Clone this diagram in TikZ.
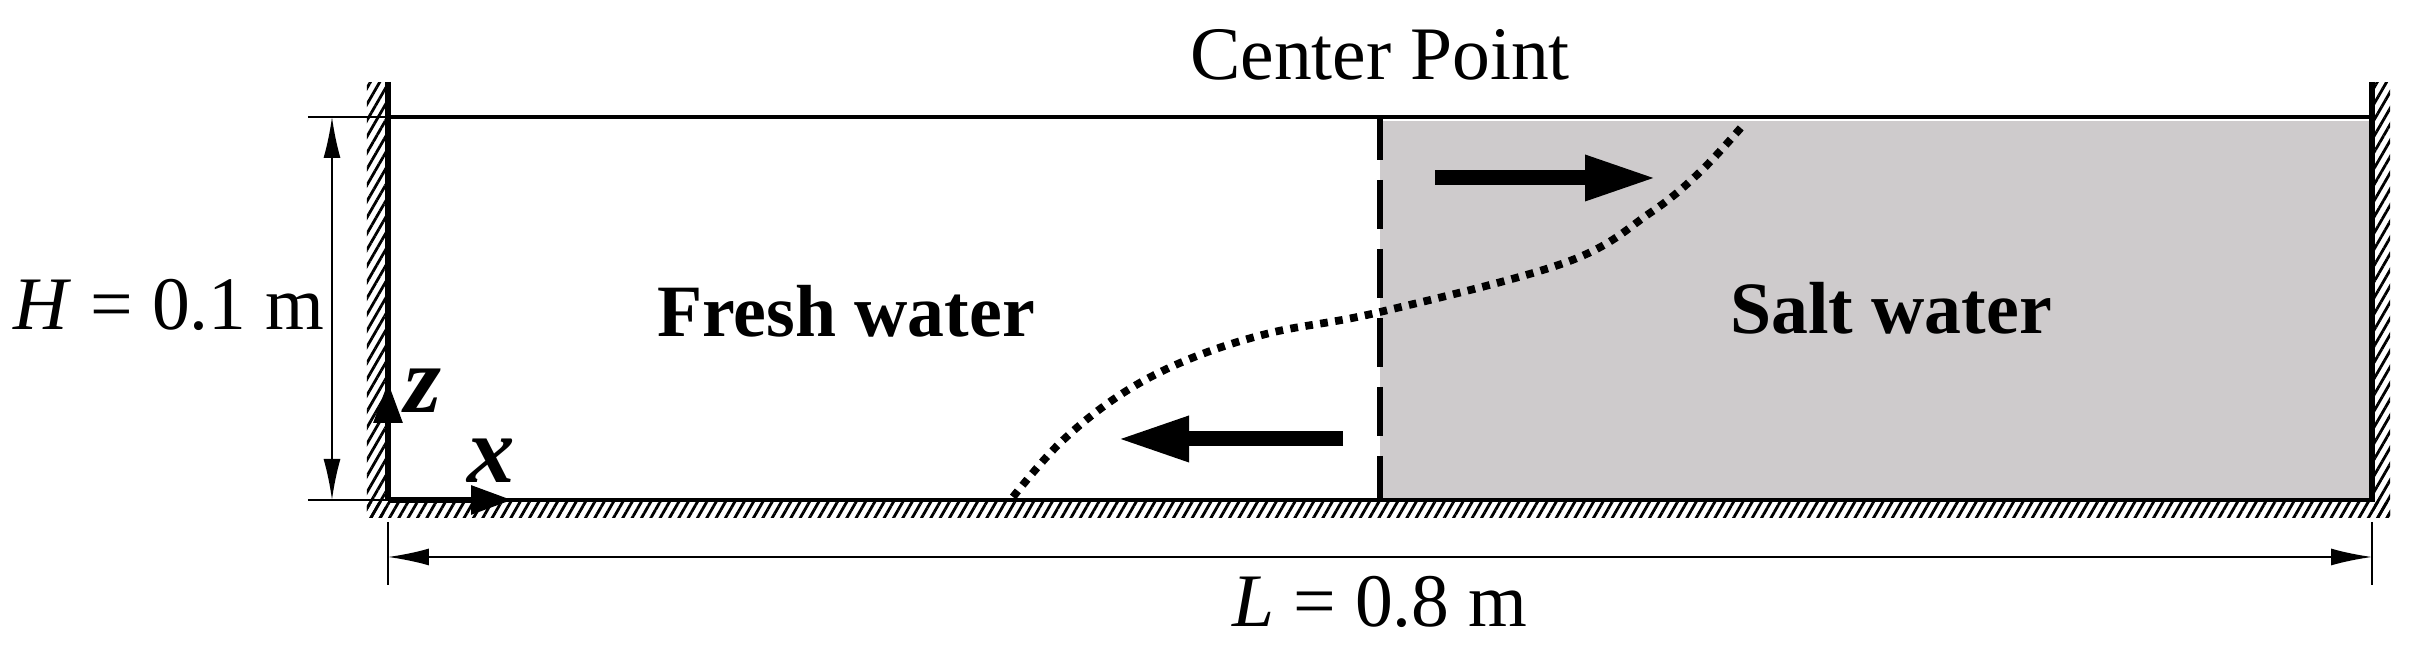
\documentclass[tikz,border=0pt]{standalone}
\usepackage{fontspec}
\setmainfont{Liberation Serif}
\usetikzlibrary{arrows.meta,patterns.meta}

\definecolor{saltgray}{RGB}{206,203,204}

\begin{document}
\begin{tikzpicture}[
wall/.style={line width=1.5pt},
tankline/.style={line width=1.35pt},
hatchband/.style={pattern={Lines[angle=60,distance=2.3pt,line width=0.8pt]}},
dimline/.style={line width=0.5pt,{Latex[length=4.1mm,width=1.7mm]}-{Latex[length=4.1mm,width=1.7mm]}},
extline/.style={line width=0.5pt},
flowarrow/.style={line width=0.15cm,-{Triangle[length=7.2mm,width=4.2mm]}},
axisarrow/.style={line width=0.06cm,-{Triangle[length=4.1mm,width=2.8mm]}},
interface/.style={line width=2.2pt,dash pattern=on 2.2pt off 2.1pt},
divider/.style={line width=1.6pt,dash pattern=on 4.9mm off 2mm,dash phase=0.6mm},
lbl/.style={font=\fontsize{21.5}{26}\selectfont,inner sep=0pt},
fluidlbl/.style={font=\fontsize{21}{25}\selectfont\bfseries,inner sep=0pt},
axislbl/.style={font=\fontsize{27}{30}\selectfont\bfseries\itshape,inner sep=0pt}
]
\useasboundingbox (-3.88,-1.59) rectangle (20.28,5.00);

%Coordinates
\coordinate (BL) at (0,0);
\coordinate (BR) at (19.84,0);
\coordinate (TL) at (0,3.83);
\coordinate (TR) at (19.84,3.83);
\coordinate (CB) at (9.92,0);
\coordinate (CT) at (9.92,3.83);
\coordinate (WL) at (0,4.18);
\coordinate (WR) at (19.84,4.18);

%Walls and fluid
\fill[hatchband] (-0.21,-0.18) rectangle (-0.03,4.17);
\fill[hatchband] (-0.21,-0.18) rectangle (20.02,-0.03);
\fill[hatchband] (19.86,-0.18) rectangle (20.02,4.17);
\fill[saltgray] (CB) rectangle (19.84,3.79);

\draw[interface] plot[smooth,tension=0.6] coordinates {(6.25,0.03) (6.72,0.57) (7.32,1.05) (7.99,1.40) (8.82,1.67) (9.92,1.88) (11.79,2.38) (12.62,2.87) (13.12,3.28) (13.57,3.77)};
\draw[divider] (CT) -- (CB);

\draw[tankline] (TL) -- (TR);
\draw[tankline] (BL) -- (BR);
\draw[wall] (WL) -- (BL);
\draw[wall] (WR) -- ([yshift=-0.6pt]BR);

%Nodes
\node[lbl,anchor=base] at (9.92,4.20) (CENTER) {Center Point};
\node[lbl,anchor=base east] at (-0.63,1.70) (HEIGHT) {\textit{H} = 0.1 m};
\node[lbl,anchor=base] at (9.92,-1.27) (LENGTH) {\textit{L} = 0.8 m};
\node[fluidlbl,anchor=base] at (4.58,1.63) (FRESH) {Fresh water};
\node[fluidlbl,anchor=base] at (15.03,1.66) (SALT) {Salt water};
\node[axislbl,anchor=base] at (0.35,0.87) (ZLBL) {z};
\node[axislbl,anchor=base] at (1.03,0.17) (XLBL) {x};

%Dimensions
\coordinate (H-top) at (-0.56,3.83);
\coordinate (H-bot) at (-0.56,0);
\coordinate (L-left) at (0,-0.57);
\coordinate (L-right) at (19.84,-0.57);
\draw[extline] (-0.80,3.83) -- (TL);
\draw[extline] (-0.80,0) -- (BL);
\draw[extline] (0,-0.22) -- (0,-0.85);
\draw[extline] (19.84,-0.22) -- (19.84,-0.85);
\draw[dimline] (H-top) -- (H-bot);
\draw[dimline] (L-left) -- (L-right);

%Arrows
\coordinate (Z-tip) at (0,1.18);
\coordinate (X-tip) at (1.24,0);
\draw[axisarrow] (BL) -- (Z-tip);
\draw[axisarrow] (BL) -- (X-tip);

\coordinate (R-start) at (10.47,3.22);
\coordinate (R-end) at (12.69,3.22);
\coordinate (F-start) at (9.55,0.61);
\coordinate (F-end) at (7.29,0.61);
\draw[flowarrow] (R-start) -- (R-end);
\draw[flowarrow] (F-start) -- (F-end);

\end{tikzpicture}
\end{document}
